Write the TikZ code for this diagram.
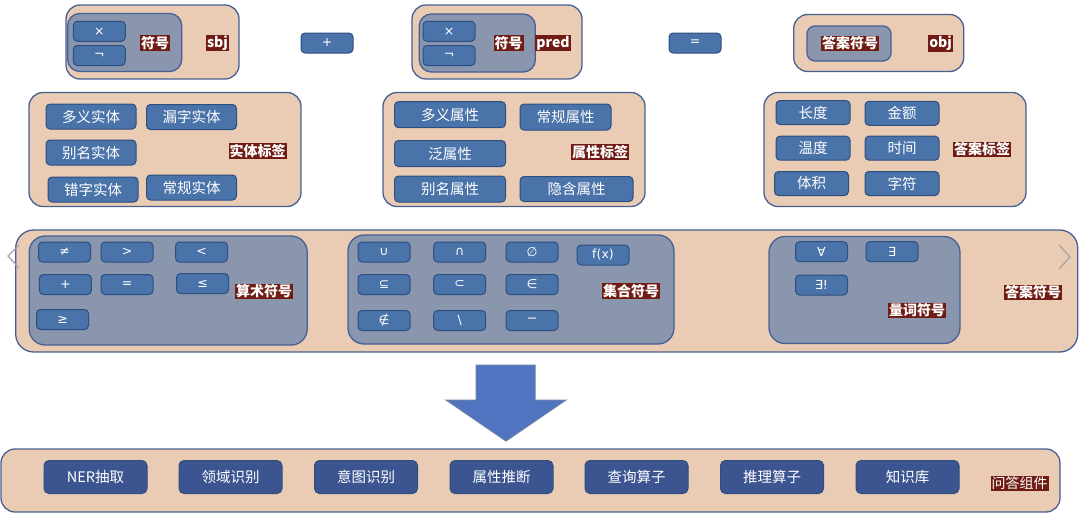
\documentclass[tikz,border=0pt]{standalone}
\usepackage{fontspec}
\setmainfont{Noto Sans CJK SC}
\newfontfamily\symf{DejaVu Sans}
\definecolor{qapeach}{RGB}{234,204,180}
\definecolor{qaedge}{RGB}{70,96,148}
\definecolor{qabtn}{RGB}{74,115,169}
\definecolor{qabtnedge}{RGB}{45,78,128}
\definecolor{qagrey}{RGB}{137,150,174}
\definecolor{qatag}{RGB}{112,28,20}
\definecolor{qaunit}{RGB}{60,85,145}
\definecolor{qaarrow}{RGB}{80,116,192}

\begin{document}
\begin{tikzpicture}[x=1pt,y=-1pt,
  panel/.style={draw=qaedge,fill=qapeach,line width=1.3pt,rounded corners=14pt,inner sep=0pt},
  symgrp/.style={draw=qaedge,fill=qagrey,line width=1.3pt,rounded corners=12pt,inner sep=0pt},
  btn/.style={draw=qabtnedge,fill=qabtn,line width=1pt,rounded corners=4pt,text=white,inner sep=0pt,
    minimum width=90,minimum height=25,font=\fontsize{14.5}{14.5}\selectfont},
  symbtn/.style={btn,minimum width=52,minimum height=20,font=\symf\fontsize{12.5}{12.5}\selectfont},
  unitbtn/.style={btn,fill=qaunit,draw=qabtnedge,minimum width=103,minimum height=33,rounded corners=5pt},
  tag/.style={fill=qatag,text=white,inner sep=1pt,font=\bfseries\fontsize{14}{14}\selectfont}]
\useasboundingbox (0,0) rectangle (1080,515);

% triple: sbj + pred = obj
\node[panel,minimum width=173,minimum height=74] (sbjp) at (152.5,42) {};
\node[symgrp,minimum width=114,minimum height=58] (sbjg) at (124.7,42.5) {};
\node[symbtn] (sbjx) at (99.3,31.3) {×};
\node[symbtn] (sbjn) at (99.3,55.5) {¬};
\node[tag] (sbjsym) at (155,43) {符号};
\node[tag] (sbj) at (217.5,43) {sbj};
\node[symbtn] (plus) at (327,43) {+};
\node[panel,minimum width=170,minimum height=74] (predp) at (497,42) {};
\node[symgrp,minimum width=116,minimum height=58] (predg) at (477.3,43) {};
\node[symbtn] (predx) at (449,31.3) {×};
\node[symbtn] (predn) at (449,55.5) {¬};
\node[tag] (predsym) at (508.5,43) {符号};
\node[tag] (pred) at (553,43) {pred};
\node[symbtn] (eq) at (695,43) {=};
\node[panel,minimum width=170,minimum height=57] (objp) at (878.7,43) {};
\node[symgrp,minimum width=84,minimum height=35,rounded corners=8pt] (objg) at (849,43.5) {};
\node[tag] (objsym) at (850,43.5) {答案符号};
\node[tag] (obj) at (940.6,43.5) {obj};

% tag panels
\node[panel,minimum width=272,minimum height=114] (entp) at (165,149.5) {};
\node[btn] (ent1) at (91,116.5) {多义实体};
\node[btn] (ent2) at (191.5,117) {漏字实体};
\node[btn] (ent3) at (91,152.5) {别名实体};
\node[btn] (ent4) at (93,189.5) {错字实体};
\node[btn] (ent5) at (191.5,187.5) {常规实体};
\node[tag] (enttag) at (257.5,151) {实体标签};

\node[panel,minimum width=262,minimum height=114] (attp) at (514,149.5) {};
\node[btn,minimum width=111,minimum height=26] (att1) at (450,114.7) {多义属性};
\node[btn,minimum width=111,minimum height=26] (att2) at (450,153.5) {泛属性};
\node[btn,minimum width=111,minimum height=26] (att3) at (450,189) {别名属性};
\node[btn,minimum width=91,minimum height=26] (att4) at (565.5,117) {常规属性};
\node[btn,minimum width=113,minimum height=25] (att5) at (576.5,189) {隐含属性};
\node[tag] (atttag) at (600,152) {属性标签};

\node[panel,minimum width=262,minimum height=114] (ansp) at (895,149.5) {};
\node[btn,minimum width=74,minimum height=24] (ans1) at (813,112.5) {长度};
\node[btn,minimum width=74,minimum height=24] (ans2) at (902,113.3) {金额};
\node[btn,minimum width=74,minimum height=24] (ans3) at (813,148.2) {温度};
\node[btn,minimum width=74,minimum height=24] (ans4) at (902,148.2) {时间};
\node[btn,minimum width=74,minimum height=24] (ans5) at (811.5,183.5) {体积};
\node[btn,minimum width=74,minimum height=24] (ans6) at (902,183.5) {字符};
\node[tag] (anstag) at (982,149.5) {答案标签};

% symbol panel
\node[panel,minimum width=1062,minimum height=122,rounded corners=18pt] (symp) at (546.7,291) {};
\node[symgrp,minimum width=278,minimum height=109,rounded corners=16pt] (arith) at (168.2,290.5) {};
\node[symbtn] (ar1) at (64.5,252) {≠};
\node[symbtn] (ar2) at (127,252) {>};
\node[symbtn] (ar3) at (201.5,252) {<};
\node[symbtn] (ar4) at (65.3,284.5) {+};
\node[symbtn] (ar5) at (127,284.5) {=};
\node[symbtn] (ar6) at (202.5,283.5) {≤};
\node[symbtn] (ar7) at (62.5,319.5) {≥};
\node[tag] (artag) at (264,291.5) {算术符号};

\node[symgrp,minimum width=326,minimum height=109,rounded corners=16pt] (sets) at (511,289.5) {};
\node[symbtn] (st1) at (384,252) {∪};
\node[symbtn] (st2) at (459.7,252) {∩};
\node[symbtn] (st3) at (532,252) {∅};
\node[symbtn] (st4) at (603,255) {f(x)};
\node[symbtn] (st5) at (384,284.5) {⊆};
\node[symbtn] (st6) at (459.7,284.5) {⊂};
\node[symbtn] (st7) at (532,284.5) {∈};
\node[symbtn] (st8) at (384,320.5) {∉};
\node[symbtn] (st9) at (459.7,320.5) {\textbackslash};
\node[symbtn] (st10) at (532,320.5) {−};
\node[tag] (sttag) at (631,291) {集合符号};

\node[symgrp,minimum width=191,minimum height=107,rounded corners=16pt] (quant) at (864.5,290) {};
\node[symbtn] (qu1) at (821.5,251.7) {∀};
\node[symbtn] (qu2) at (892,251.7) {∃};
\node[symbtn] (qu3) at (821.5,285) {∃!};
\node[tag] (qutag) at (917,310.5) {量词符号};
\node[tag] (symtag) at (1033,292.5) {答案符号};

% slider marks
\draw[gray!70,line width=1.3pt] (19,245) -- (8,256) -- (19,268);
\draw[gray!70,line width=1.3pt] (1059,245) -- (1070,257) -- (1059,269);

% big arrow
\filldraw[fill=qaarrow,draw=qaedge!80,line width=1pt]
  (476,365) -- (535,365) -- (535,400) -- (566,400) -- (506,441) -- (446,400) -- (476,400) -- cycle;

% components
\node[panel,minimum width=1059,minimum height=63] (comp) at (530.5,480.5) {};
\foreach \name/\x/\txt in {ner/95.5/NER抽取, dom/230.5/领域识别, int/366/意图识别, att/501.5/属性推断,
  qry/636.5/查询算子, inf/772/推理算子, kb/907.5/知识库}
  \node[unitbtn] (u-\name) at (\x,477) {\txt};
\node[tag,font=\fontsize{14}{14}\selectfont] (comptag) at (1019.5,483.5) {问答组件};
\end{tikzpicture}
\end{document}
